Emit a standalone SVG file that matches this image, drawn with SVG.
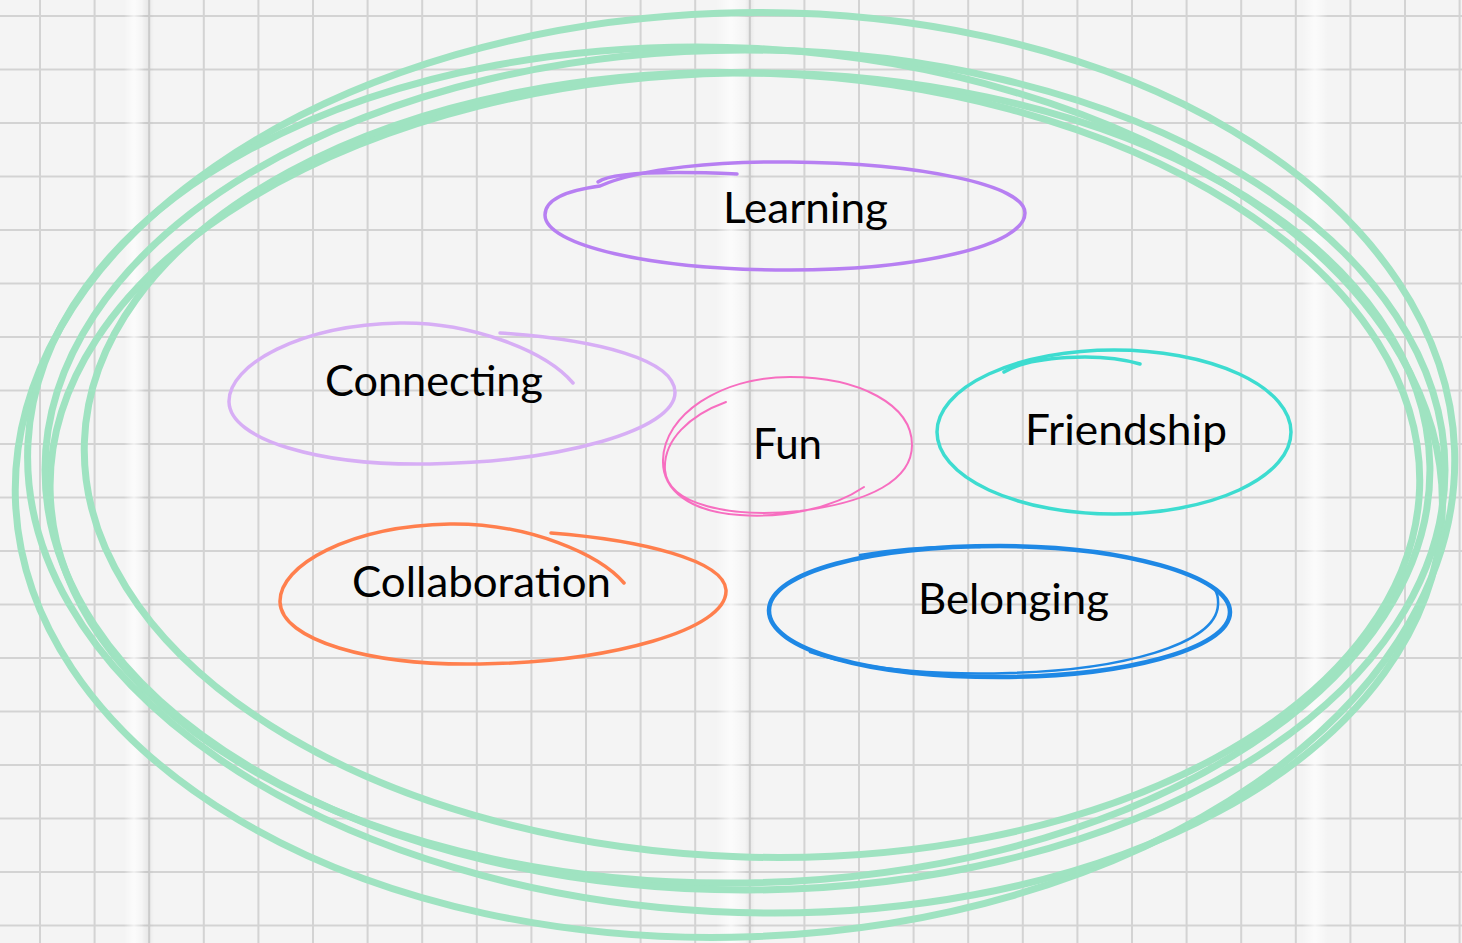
<svg xmlns="http://www.w3.org/2000/svg" width="1462" height="943" viewBox="0 0 1462 943">
  <defs>
    <linearGradient id="creaseV" x1="0" y1="0" x2="1" y2="0">
      <stop offset="0" stop-color="#ffffff" stop-opacity="0"/>
      <stop offset="0.5" stop-color="#ffffff" stop-opacity="0.7"/>
      <stop offset="1" stop-color="#ffffff" stop-opacity="0"/>
    </linearGradient>
    <linearGradient id="shadeV" x1="0" y1="0" x2="1" y2="0">
      <stop offset="0" stop-color="#000000" stop-opacity="0"/>
      <stop offset="0.5" stop-color="#000000" stop-opacity="0.05"/>
      <stop offset="1" stop-color="#000000" stop-opacity="0"/>
    </linearGradient>
  </defs>
  <style>
    .lbl { font-family: Lato, "Open Sans", "Liberation Sans", sans-serif; font-size: 43px; fill: #000000; }
    .loop { fill: none; stroke-linecap: round; stroke-linejoin: round; }
    .green { stroke: #9fe3c1; stroke-width: 7; fill: none; }
    .gridline { fill: none; stroke: #d3d3d3; stroke-width: 2; }
  </style>

  <!-- paper background -->
  <g id="paper">
    <rect x="0" y="0" width="1462" height="943" fill="#f4f4f4"/>
    <path class="gridline" d="M40,0V943 M94.6,0V943 M149.2,0V943 M203.8,0V943 M258.4,0V943 M313,0V943 M367.6,0V943 M422.2,0V943 M476.8,0V943 M531.4,0V943 M586,0V943 M640.6,0V943 M695.2,0V943 M749.8,0V943 M804.4,0V943 M859,0V943 M913.6,0V943 M968.2,0V943 M1022.8,0V943 M1077.4,0V943 M1132,0V943 M1186.6,0V943 M1241.2,0V943 M1295.8,0V943 M1350.4,0V943 M1405,0V943 M1459.6,0V943"/>
    <path class="gridline" d="M0,16H1462 M0,69.5H1462 M0,123H1462 M0,176.5H1462 M0,230H1462 M0,283.5H1462 M0,337H1462 M0,390.5H1462 M0,444H1462 M0,497.5H1462 M0,551H1462 M0,604.5H1462 M0,658H1462 M0,711.5H1462 M0,765H1462 M0,818.5H1462 M0,872H1462 M0,925.5H1462"/>
    <rect x="124" y="0" width="20" height="943" fill="url(#creaseV)"/>
    <rect x="142" y="0" width="12" height="943" fill="url(#shadeV)"/>
    <rect x="716" y="0" width="30" height="943" fill="url(#creaseV)"/>
    <rect x="745" y="0" width="10" height="943" fill="url(#shadeV)"/>
    <rect x="1302" y="0" width="26" height="943" fill="url(#creaseV)"/>
  </g>

  <!-- green outer scribble -->
  <g id="frame" class="green">
    <ellipse cx="735" cy="475" rx="720" ry="462" transform="rotate(-2 735 475)"/>
    <ellipse cx="735" cy="480" rx="708" ry="432" transform="rotate(3 735 480)"/>
    <ellipse cx="740" cy="478" rx="690" ry="405" transform="rotate(-1 740 478)"/>
    <ellipse cx="752" cy="465" rx="668" ry="392" transform="rotate(2 752 465)"/>
    <ellipse cx="745" cy="470" rx="700" ry="420"/>
  </g>

  <g id="connectors"/>

  <g id="node-learning">
    <path class="loop" stroke="#b77ff2" stroke-width="3.5" d="M600,186 C640,168 720,161 790,162 C920,163 1025,185 1025,213 C1025,245 920,270 790,270 C650,270 545,245 545,215 C545,198 570,190 600,186"/>
    <path class="loop" stroke="#b77ff2" stroke-width="3.5" d="M598,182 C612,172 665,171 737,174"/>
    <text class="lbl" x="723" y="223" textLength="165" lengthAdjust="spacingAndGlyphs">Learning</text>
  </g>

  <g id="node-connecting">
    <path class="loop" stroke="#d7aef5" stroke-width="3.5" d="M573,383 C545,350 470,322 400,323 C300,325 228,365 229,402 C230,440 320,466 430,464 C560,462 676,430 675,392 C674,360 600,340 500,333"/>
    <text class="lbl" x="325" y="396" textLength="218" lengthAdjust="spacingAndGlyphs">Connecting</text>
  </g>

  <g id="node-fun">
    <path class="loop" stroke="#f76ec0" stroke-width="2" d="M864,487 C830,510 780,518 740,515 C690,512 662,490 663,460 C664,415 720,377 790,377 C860,377 912,405 912,445 C912,480 870,502 800,511 C730,518 668,505 665,470 C663,440 690,415 726,402"/>
    <text class="lbl" x="753" y="459" textLength="69" lengthAdjust="spacingAndGlyphs">Fun</text>
  </g>

  <g id="node-friendship">
    <ellipse class="loop" stroke="#3ddcd0" stroke-width="3.5" cx="1114" cy="432" rx="177" ry="82"/>
    <path class="loop" stroke="#3ddcd0" stroke-width="3.5" d="M1004,372 C1030,356 1100,352 1140,364"/>
    <text class="lbl" x="1025" y="445" textLength="202" lengthAdjust="spacingAndGlyphs">Friendship</text>
  </g>

  <g id="node-collaboration">
    <path class="loop" stroke="#ff7f4d" stroke-width="3.5" d="M624,583 C600,555 530,523 450,524 C350,526 279,565 280,602 C281,640 370,666 480,664 C610,662 728,630 726,590 C724,560 640,540 551,533"/>
    <text class="lbl" x="352" y="597" textLength="259" lengthAdjust="spacingAndGlyphs">Collaboration</text>
  </g>

  <g id="node-belonging">
    <path class="loop" stroke="#1e88e5" stroke-width="4.5" d="M1000,546 C1120,546 1230,575 1230,612 C1230,650 1120,677 1000,677 C870,677 768,650 769,610 C770,572 870,546 1000,546"/>
    <path class="loop" stroke="#1e88e5" stroke-width="2.5" d="M810,652 C870,672 950,675 1010,673 C1120,670 1216,645 1218,605 C1219,590 1212,585 1205,583"/>
    <path class="loop" stroke="#1e88e5" stroke-width="2.5" d="M860,555 C900,548 940,546 980,547"/>
    <text class="lbl" x="918" y="614" textLength="191" lengthAdjust="spacingAndGlyphs">Belonging</text>
  </g>
</svg>
